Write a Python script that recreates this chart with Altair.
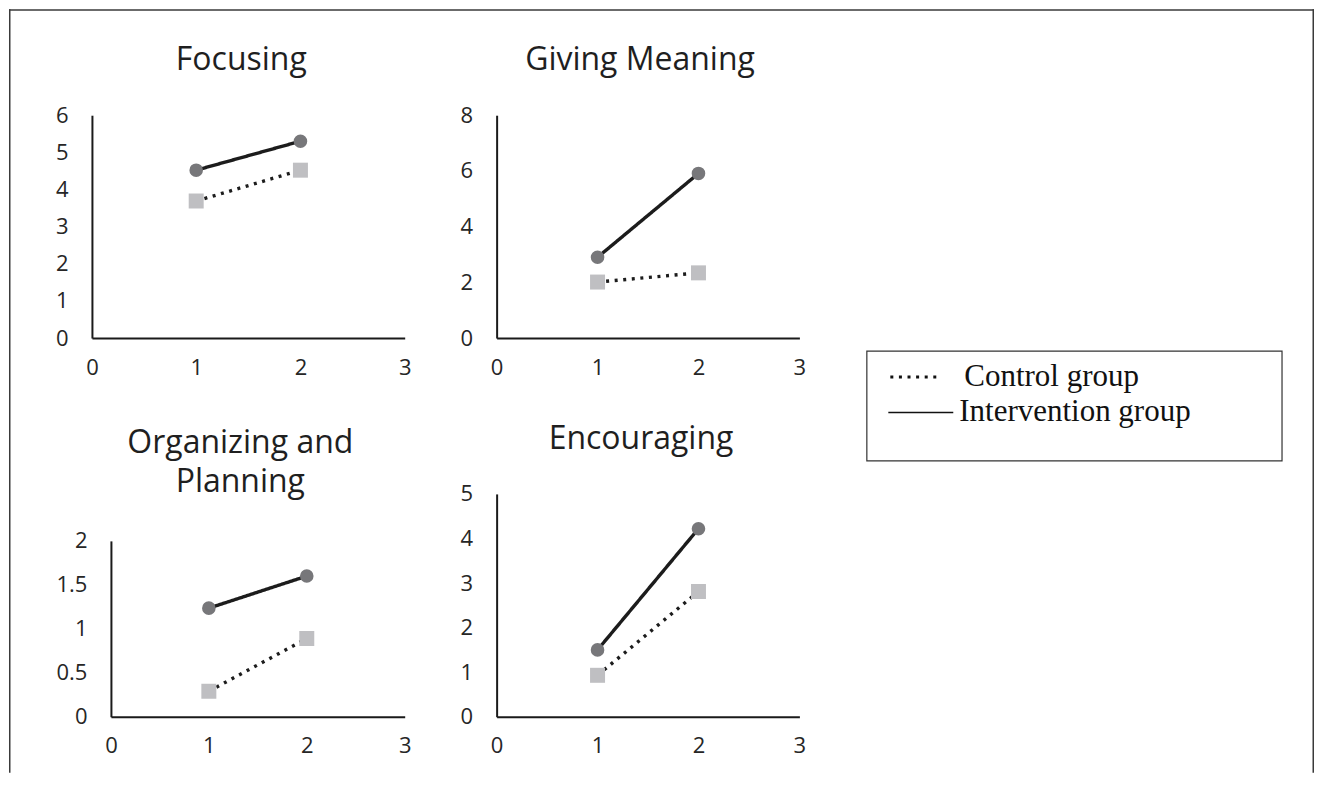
import altair as alt
import pandas as pd

# ---- data ----
panels = ["Focusing", "Giving Meaning", "Organizing and Planning", "Encouraging"]
panel_titles = ["Focusing", "Giving Meaning", ["Organizing and", "Planning"], "Encouraging"]
times = [1, 2]
intervention = [[4.52, 5.30], [2.90, 5.91], [1.235, 1.60], [1.50, 4.22]]
control = [[3.69, 4.52], [2.01, 2.34], [0.29, 0.89], [0.93, 2.81]]
y_ticks = [[0, 1, 2, 3, 4, 5, 6], [0, 2, 4, 6, 8], [0, 0.5, 1, 1.5, 2], [0, 1, 2, 3, 4, 5]]
x_ticks = [0, 1, 2, 3]
groups = ["Control group", "Intervention group"]

rows = []
for p, iv, cv in zip(panels, intervention, control):
    for t, a, b in zip(times, iv, cv):
        rows.append({"panel": p, "group": groups[0], "time": t, "value": b})
        rows.append({"panel": p, "group": groups[1], "time": t, "value": a})
df = pd.DataFrame(rows)
df["series"] = df["group"]
one = pd.DataFrame({"k": [0]})

# ---- layout (view pixels) ----
W, H = 1306, 764
# x range start/end, y pixel of zero, y pixel of top tick
frames = [
    (83, 396, 329, 106),
    (488, 791, 329, 106),
    (102, 396, 708, 532),
    (488, 791, 708, 485),
]
title_centers = [(232, 50), (631, 50), (231, 434), (632, 430)]

legend_control = alt.Legend(
    orient="none", legendX=880, legendY=341, title=None, values=[groups[0]],
    symbolType="stroke", symbolSize=2500, symbolStrokeWidth=3.2,
    symbolStrokeColor="#111111",
    labelFont="Liberation Serif", labelFontSize=31, labelColor="#111111",
    labelOffset=22, labelLimit=500, padding=0,
)
legend_interv = alt.Legend(
    orient="none", legendX=879, legendY=370, title=None, values=[groups[1]],
    symbolType="stroke", symbolSize=4225, symbolStrokeWidth=1.4,
    symbolStrokeColor="#111111",
    labelFont="Liberation Serif", labelFontSize=31, labelColor="#111111",
    labelOffset=5, labelLimit=500, padding=0,
)


def make_panel(i):
    x0, x1, yz, yt = frames[i]
    tx, ty = title_centers[i]
    ymax = y_ticks[i][-1]
    xenc = alt.X(
        "time:Q",
        scale=alt.Scale(domain=[0, 3], range=[x0, x1], nice=False, zero=False),
        axis=alt.Axis(values=x_ticks, orient="bottom", offset=yz - H, title=None,
                      labelFlush=False, labelPadding=19),
    )
    yenc = alt.Y(
        "value:Q",
        scale=alt.Scale(domain=[0, ymax], range=[yz, yt], nice=False, zero=True),
        axis=alt.Axis(values=y_ticks[i], orient="left", offset=-x0, format="~g",
                      labelPadding=24, title=panel_titles[i], titleX=tx - x0, titleY=ty,
                      titleAngle=0, titleAlign="center", titleBaseline="middle",
                      titleLineHeight=39),
    )
    base = alt.Chart(df).transform_filter(alt.datum.panel == panels[i]).encode(x=xenc, y=yenc)
    line = base.mark_line(color="#1c1c1c", strokeWidth=3.4).encode(
        strokeDash=alt.StrokeDash(
            "group:N",
            scale=alt.Scale(domain=groups, range=[[3, 5.6], [1, 0]]),
            legend=legend_control,
        ),
        opacity=alt.Opacity(
            "series:N",
            scale=alt.Scale(domain=[groups[1], groups[0]], range=[1, 1]),
            legend=legend_interv,
        ),
    )
    sq = base.transform_filter(alt.datum.group == groups[0]).mark_square(
        size=225, color="#bfbfc2", opacity=1
    )
    ci = base.transform_filter(alt.datum.group == groups[1]).mark_circle(
        size=185, color="#77777a", opacity=1
    )
    return alt.layer(line, sq, ci)


# decorative frame (left, top, right edges) and legend box
frame_color = "#3a3a3a"
frame_left = alt.Chart(one).mark_rule(color=frame_color, strokeWidth=1.5).encode(
    x=alt.value(0.75), y=alt.value(0), y2=alt.value(H))
frame_top = alt.Chart(one).mark_rule(color=frame_color, strokeWidth=1.5).encode(
    x=alt.value(0), x2=alt.value(W), y=alt.value(0.75))
frame_right = alt.Chart(one).mark_rule(color=frame_color, strokeWidth=1.5).encode(
    x=alt.value(W - 0.75), y=alt.value(0), y2=alt.value(H))
legend_box = alt.Chart(one).mark_rect(fill="white", stroke="#333333", strokeWidth=1.2).encode(
    x=alt.value(858.5), x2=alt.value(1274), y=alt.value(342), y2=alt.value(452))

chart = (
    alt.layer(frame_left, frame_top, frame_right, legend_box, *[make_panel(i) for i in range(4)])
    .resolve_scale(x="independent", y="independent")
    .resolve_axis(x="independent", y="independent")
    .properties(width=W, height=H, padding=0, background="white")
    .configure_view(stroke=None)
    .configure_axis(
        grid=False, ticks=False, domainColor="#1a1a1a", domainWidth=2,
        labelFont="Open Sans", labelFontSize=22, labelColor="#262626",
        titleFont="Open Sans", titleFontSize=32, titleColor="#1f1f1f",
        titleFontWeight="normal",
    )
)

chart.save("out.html", embed_options={"renderer": "svg", "actions": False})
